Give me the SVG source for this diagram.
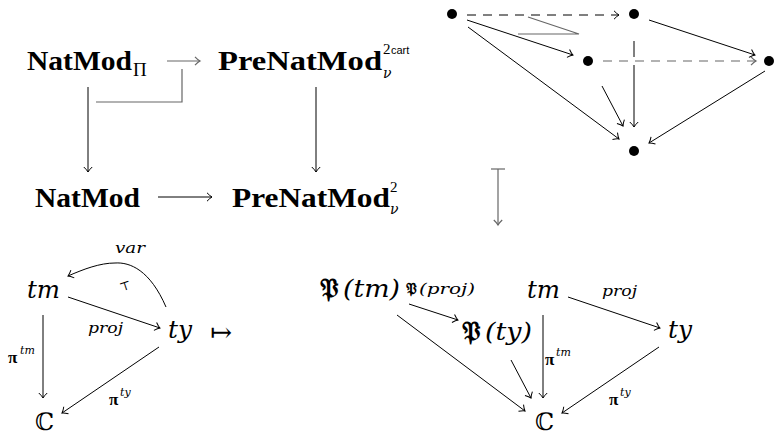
<svg xmlns="http://www.w3.org/2000/svg" width="774" height="436" viewBox="0 0 774 436">
<style>
.bf{font-family:"Liberation Serif","DejaVu Serif",serif;font-weight:bold;fill:#000}
.it{font-family:"DejaVu Serif","Liberation Serif",serif;font-style:italic;fill:#000}
.rm{font-family:"Liberation Serif","DejaVu Serif",serif;fill:#000}
.sf{font-family:"Liberation Sans","DejaVu Sans",sans-serif;fill:#000}
.bb{font-family:"DejaVu Serif","DejaVu Sans",serif;fill:#000}
.fr{font-family:"DejaVu Serif","DejaVu Sans","Noto Sans",serif;fill:#000}
.a{fill:none;stroke:#000;stroke-width:1;marker-end:url(#ah)}
.g{fill:none;stroke:#666;stroke-width:1.2}
.ga{fill:none;stroke:#666;stroke-width:1.2;marker-end:url(#ahg)}
.d{stroke-dasharray:9 7}
</style>
<defs>
<marker id="ah" markerUnits="userSpaceOnUse" markerWidth="12" markerHeight="12" viewBox="0 0 12 12" refX="10" refY="6" orient="auto">
<path d="M5,1.8 Q8,5 10,6 Q8,7 5,10.2" fill="none" stroke="#000" stroke-width="1"/>
</marker>
<marker id="ahg" markerUnits="userSpaceOnUse" markerWidth="12" markerHeight="12" viewBox="0 0 12 12" refX="10" refY="6" orient="auto">
<path d="M5,1.8 Q8,5 10,6 Q8,7 5,10.2" fill="none" stroke="#666" stroke-width="1.2"/>
</marker>
</defs>

<!-- top-left square -->
<g id="natmodpi"><text class="bf" x="27" y="70" font-size="28" textLength="105" lengthAdjust="spacingAndGlyphs">NatMod</text><text class="rm" x="133" y="76" font-size="19">Π</text></g>
<g id="prenatmodcart"><text class="bf" x="218" y="70" font-size="28" textLength="164" lengthAdjust="spacingAndGlyphs">PreNatMod</text><text class="rm" x="383" y="54" font-size="15">2</text><text class="sf" x="391" y="54" font-size="11">cart</text><text class="it" x="383" y="78" font-size="14">ν</text></g>
<g id="natmod"><text class="bf" x="35" y="207" font-size="28" textLength="105" lengthAdjust="spacingAndGlyphs">NatMod</text></g>
<g id="prenatmod2"><text class="bf" x="232" y="207" font-size="28" textLength="158" lengthAdjust="spacingAndGlyphs">PreNatMod</text><text class="rm" x="390" y="192" font-size="15">2</text><text class="it" x="390" y="214" font-size="14">ν</text></g>

<!-- top-right cube -->
<g id="dotA"><circle cx="452" cy="14" r="5"/></g>
<g id="dotB"><circle cx="634" cy="14" r="5"/></g>
<g id="dotC"><circle cx="588" cy="61" r="5"/></g>
<g id="dotD"><circle cx="769" cy="61" r="5"/></g>
<g id="dotE"><circle cx="634" cy="151" r="5"/></g>

<!-- bottom-left -->
<g id="tm1"><text class="it" x="27" y="298" font-size="25" textLength="33" lengthAdjust="spacingAndGlyphs">tm</text></g>
<g id="ty1"><text class="it" x="168" y="338" font-size="25" textLength="24" lengthAdjust="spacingAndGlyphs">ty</text></g>
<g id="C1"><text class="bb" x="35" y="430" font-size="24">ℂ</text></g>
<g id="mapsto"><text class="rm" x="210" y="341" font-size="26">↦</text></g>

<!-- bottom-right -->
<g id="Ptm"><text class="fr" x="320" y="297" font-size="26" font-weight="bold">𝔓</text><text class="it" x="343" y="297" font-size="25" textLength="57" lengthAdjust="spacingAndGlyphs">(tm)</text></g>
<g id="Pty"><text class="fr" x="462" y="340" font-size="26" font-weight="bold">𝔓</text><text class="it" x="485" y="340" font-size="25" textLength="47" lengthAdjust="spacingAndGlyphs">(ty)</text></g>
<g id="tm2"><text class="it" x="527" y="298" font-size="25" textLength="33" lengthAdjust="spacingAndGlyphs">tm</text></g>
<g id="ty2"><text class="it" x="668" y="338" font-size="25" textLength="24" lengthAdjust="spacingAndGlyphs">ty</text></g>
<g id="C2"><text class="bb" x="535" y="430" font-size="24">ℂ</text></g>

<g id="connectors">
<!-- top-left -->
<path class="ga" d="M167,61 H200"/>
<path class="g" d="M96,102 H182 V69"/>
<path class="a" d="M88,87 V172"/>
<path class="a" d="M316,87 V172"/>
<path class="a" d="M158,197 H212"/>
<!-- cube -->
<path class="a d" d="M467,15 H619"/>
<path class="ga d" d="M603,61 H756"/>
<path class="a" d="M467,20 L573,55"/>
<path class="a" d="M468,27 L619,139"/>
<path class="a" d="M649,20 L755,55"/>
<path class="a" d="M765,71 L649,143"/>
<path fill="none" stroke="#000" d="M634,41 V57"/>
<path class="a" d="M634,65 V127"/>
<path class="a" d="M602,86 L623,126"/>
<path class="g" d="M528,17 L579,34 H518"/>
<!-- mapsto vertical -->
<path class="g" d="M491,169 H505"/>
<path class="ga" d="M498,169 V225"/>
<!-- bottom-left -->
<path class="a" d="M166,307 C150,270 130,262 115,263 C100,263 84,269 68,276"/>
<path class="a" d="M68,297 L160,328"/>
<path class="a" d="M43,315 V398"/>
<path class="a" d="M159,347 L62,413"/>
<!-- bottom-right -->
<path class="a" d="M409,304 L458,320"/>
<path class="a" d="M568,297 L660,328"/>
<path class="a" d="M543,315 V398"/>
<path class="a" d="M397,315 L525,411"/>
<path class="a" d="M511,360 L531,398"/>
<path class="a" d="M659,347 L562,413"/>
</g>

<!-- labels -->
<text class="it" x="115" y="253" font-size="15" textLength="30" lengthAdjust="spacingAndGlyphs">var</text>
<text class="rm" x="120" y="292" font-size="12" transform="rotate(-18 120 288)">⊤</text>
<text class="it" x="88" y="333" font-size="15" textLength="35" lengthAdjust="spacingAndGlyphs">proj</text>
<text class="bf" x="8" y="363" font-size="17">π</text><text class="it" x="20" y="354" font-size="11">tm</text>
<text class="bf" x="109" y="405" font-size="17">π</text><text class="it" x="120" y="396" font-size="11">ty</text>

<text class="fr" x="406" y="294" font-size="15" font-weight="bold">𝔓</text><text class="it" x="419" y="294" font-size="14" textLength="56" lengthAdjust="spacingAndGlyphs">(proj)</text>
<text class="it" x="602" y="296" font-size="15" textLength="35" lengthAdjust="spacingAndGlyphs">proj</text>
<text class="bf" x="545" y="365" font-size="17">π</text><text class="it" x="556" y="356" font-size="11">tm</text>
<text class="bf" x="609" y="405" font-size="17">π</text><text class="it" x="620" y="396" font-size="11">ty</text>
</svg>
